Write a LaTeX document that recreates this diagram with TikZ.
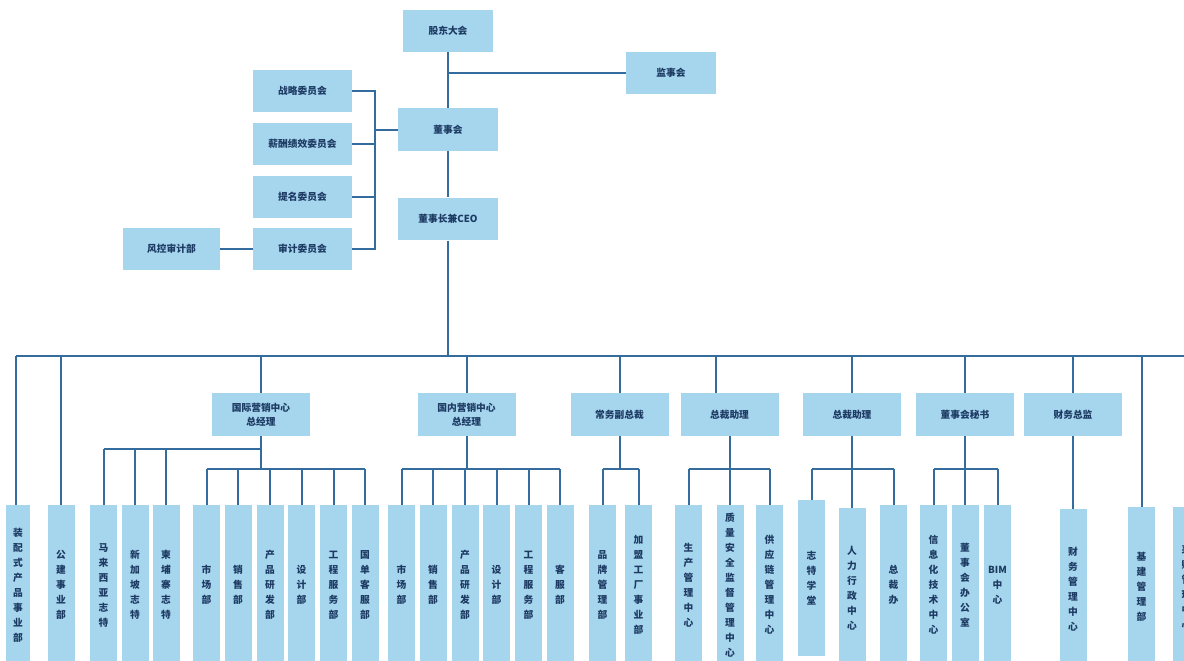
\documentclass[tikz,border=0pt]{standalone}
\usepackage{fontspec}
\newfontfamily\cjk{Noto Sans CJK SC}
\definecolor{boxc}{RGB}{166,213,238}
\definecolor{lnc}{RGB}{52,108,158}
\definecolor{txtc}{RGB}{28,58,98}
\begin{document}
\begin{tikzpicture}[x=0.75pt,y=-0.75pt,
  box/.style={fill=boxc, draw=none, inner sep=0pt, text=txtc, align=center,
    font=\cjk\bfseries\fontsize{7.3}{10.5}\selectfont},
  topbox/.style={box, minimum width=67.5pt, minimum height=31.5pt},
  cbox/.style={box, minimum width=74.25pt, minimum height=31.5pt},
  dbox/.style={box, minimum width=75pt, minimum height=32pt},
  midbox/.style={box, minimum width=73.5pt, minimum height=32.25pt},
  vbox/.style={box, minimum width=20.25pt, minimum height=120pt,
    font=\cjk\bfseries\fontsize{7.3}{11.25}\selectfont},
  ln/.style={draw=lnc, line width=1.5pt}]
\useasboundingbox (0,0) rectangle (1184,660);
\clip (0,0) rectangle (1184,660);
\fill[white] (0,0) rectangle (1184,660);

% top level
\node[topbox] (gd) at (448,31) {股东大会};
\node[topbox] (js) at (671,73) {监事会};
\node[dbox] (dsh) at (448,129.5) {董事会};
\node[dbox] (ceo) at (448,219) {董事长兼CEO};
\node[cbox] (c1) at (302.5,91) {战略委员会};
\node[cbox] (c2) at (302.5,143.5) {薪酬绩效委员会};
\node[cbox] (c3) at (302.5,197) {提名委员会};
\node[cbox] (c4) at (302.5,249) {审计委员会};
\node[cbox,minimum width=72.75pt] (fk) at (171.5,249) {风控审计部};

% middle level
\node[midbox] (m1) at (261,414.5) {国际营销中心\\总经理};
\node[midbox] (m2) at (466.5,414.5) {国内营销中心\\总经理};
\node[midbox] (m3) at (619.5,414.5) {常务副总裁};
\node[midbox] (m4) at (729.5,414.5) {总裁助理};
\node[midbox] (m5) at (852,414.5) {总裁助理};
\node[midbox] (m6) at (965,414.5) {董事会秘书};
\node[midbox] (m7) at (1073,414.5) {财务总监};

% bottom level
\node[vbox,minimum width=18pt] (v1) at (18,585) {装\\配\\式\\产\\品\\事\\业\\部};
\node[vbox] (v2) at (61,585) {公\\建\\事\\业\\部};
\node[vbox] (v3) at (103.5,585) {马\\来\\西\\亚\\志\\特};
\node[vbox] (v4) at (135,585) {新\\加\\坡\\志\\特};
\node[vbox] (v5) at (166,585) {柬\\埔\\寨\\志\\特};
\node[vbox] (v6) at (206.5,585) {市\\场\\部};
\node[vbox] (v7) at (238,585) {销\\售\\部};
\node[vbox] (v8) at (270,585) {产\\品\\研\\发\\部};
\node[vbox] (v9) at (301.5,585) {设\\计\\部};
\node[vbox] (v10) at (333.5,585) {工\\程\\服\\务\\部};
\node[vbox] (v11) at (365,585) {国\\单\\客\\服\\部};
\node[vbox] (v12) at (401.5,585) {市\\场\\部};
\node[vbox] (v13) at (433,585) {销\\售\\部};
\node[vbox] (v14) at (465,585) {产\\品\\研\\发\\部};
\node[vbox] (v15) at (496.5,585) {设\\计\\部};
\node[vbox] (v16) at (528.5,585) {工\\程\\服\\务\\部};
\node[vbox] (v17) at (560,585) {客\\服\\部};
\node[vbox] (v18) at (602.5,585) {品\\牌\\管\\理\\部};
\node[vbox] (v19) at (638.5,585) {加\\盟\\工\\厂\\事\\业\\部};
\node[vbox] (v20) at (688.5,585) {生\\产\\管\\理\\中\\心};
\node[vbox] (v21) at (730,585) {质\\量\\安\\全\\监\\督\\管\\理\\中\\心};
\node[vbox] (v22) at (769.5,585) {供\\应\\链\\管\\理\\中\\心};
\node[vbox,minimum height=117pt] (v23) at (811.5,578) {志\\特\\学\\堂};
\node[vbox] (v24) at (852,588) {人\\力\\行\\政\\中\\心};
\node[vbox] (v25) at (893.5,585) {总\\裁\\办};
\node[vbox] (v26) at (933.5,585) {信\\息\\化\\技\\术\\中\\心};
\node[vbox] (v27) at (965,585) {董\\事\\会\\办\\公\\室};
\node[vbox] (v28) at (997.5,585) {BIM\\中\\心};
\node[vbox] (v29) at (1073,589) {财\\务\\管\\理\\中\\心};
\node[vbox] (v30) at (1141.5,587) {基\\建\\管\\理\\部};
\node[vbox] (v31) at (1186.5,587) {采\\购\\管\\理\\中\\心};

% connectors top
\coordinate (br) at (375,0);
\draw[ln] (gd.south) -- (dsh.north);
\draw[ln] (gd.south |- js.west) -- (js.west);
\draw[ln] (dsh.south) -- (ceo.north);
\draw[ln] (c1.east) -- (c1.east -| br) -- (c4.east -| br) -- (c4.east);
\draw[ln] (c2.east) -- (c2.east -| br);
\draw[ln] (c3.east) -- (c3.east -| br);
\draw[ln] (dsh.west) -- (dsh.west -| br);
\draw[ln] (fk.east) -- (c4.west);

% main bus
\coordinate (busL) at (16,356);
\coordinate (busR) at (1190,356);
\draw[ln] (ceo.south) -- (ceo.south |- busL);
\draw[ln] (busL) -- (busR);
\draw[ln] ([xshift=-1.5pt]v1.north) -- ([xshift=-1.5pt]v1.north |- busL);
\foreach \n in {v2,m1,m2,m3,m5,m6,m7,v30}
  \draw[ln] (\n.north) -- (\n.north |- busL);
\draw[ln] ([xshift=-10.5pt]m4.north) -- ([xshift=-10.5pt]m4.north |- busL);

% sub buses
\coordinate (sa) at (0,449);
\coordinate (sb) at (0,469);
\draw[ln] (m1.south) -- (m1.south |- sb);
\draw[ln] (m1.south |- sa) -- (v3.north |- sa);
\foreach \n in {v3,v4,v5} \draw[ln] (\n.north) -- (\n.north |- sa);
\draw[ln] (v6.north |- sb) -- (v11.north |- sb);
\foreach \n in {v6,v7,v8,v9,v10,v11} \draw[ln] (\n.north) -- (\n.north |- sb);

\draw[ln] (m2.south) -- (m2.south |- sb);
\draw[ln] (v12.north |- sb) -- (v17.north |- sb);
\foreach \n in {v12,v13,v14,v15,v16,v17} \draw[ln] (\n.north) -- (\n.north |- sb);

\draw[ln] (m3.south) -- (m3.south |- sb);
\draw[ln] (v18.north |- sb) -- (v19.north |- sb);
\foreach \n in {v18,v19} \draw[ln] (\n.north) -- (\n.north |- sb);

\draw[ln] (m4.south) -- (m4.south |- sb);
\draw[ln] (v20.north |- sb) -- (v22.north |- sb);
\foreach \n in {v20,v21,v22} \draw[ln] (\n.north) -- (\n.north |- sb);

\draw[ln] (m5.south) -- (m5.south |- sb);
\draw[ln] (v23.north |- sb) -- (v25.north |- sb);
\foreach \n in {v23,v24,v25} \draw[ln] (\n.north) -- (\n.north |- sb);

\draw[ln] (m6.south) -- (m6.south |- sb);
\draw[ln] (v26.north |- sb) -- (v28.north |- sb);
\foreach \n in {v26,v27,v28} \draw[ln] (\n.north) -- (\n.north |- sb);

\draw[ln] (m7.south) -- (v29.north);
\end{tikzpicture}
\end{document}
